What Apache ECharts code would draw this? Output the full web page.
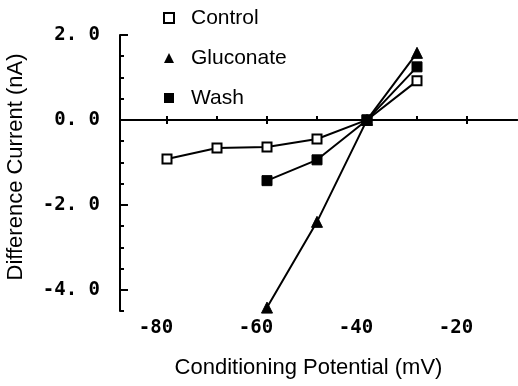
<!DOCTYPE html>
<html>
<head>
<meta charset="utf-8">
<script src="https://cdn.jsdelivr.net/npm/echarts@6/dist/echarts.min.js"></script>
<style>
    html, body { margin: 0; padding: 0; background: #fff; }
    #chart { width: 518px; height: 386px; }
</style>
</head>
<body>
<div id="chart"></div>
<script>
// conditioning potential (mV)
const controlX = [-80, -70, -60, -50, -40, -30];
const controlY = [-0.92, -0.66, -0.64, -0.45, 0, 0.92];
const gluconateX = [-60, -50, -40, -30];
const gluconateY = [-4.42, -2.4, 0, 1.58];
const washX = [-60, -50, -40, -30];
const washY = [-1.43, -0.94, 0, 1.25];
const xTickLabels = [-80, -60, -40, -20];
const xMinorTicks = [-80, -70, -60, -50, -40, -30, -20];
const yMajorTicks = [-4, -2, 0, 2];

const pairs = (xs, ys) => xs.map((x, i) => [x, ys[i]]);

let myChart = echarts.init(document.getElementById('chart'));

const monoFont = 'DejaVu Sans Mono';
const sansFont = 'Liberation Sans';

myChart.setOption({
    animation: false,
    backgroundColor: '#fff',
    legend: {
        orient: 'vertical',
        left: 158,
        top: 2,
        itemWidth: 10,
        itemHeight: 10,
        itemGap: 18,
        textStyle: {
            fontFamily: sansFont,
            fontSize: 21,
            color: '#000',
            lineHeight: 22,
            padding: [0, 0, 0, 12],
        },
        data: [
            { name: 'Control', icon: 'rect' },
            { name: 'Gluconate', icon: 'triangle' },
            { name: 'Wash', icon: 'rect' },
        ],
    },
    grid: {
        left: 120,
        right: 1,
        top: 35,
        bottom: 75,
        outerBoundsMode: 'none',
    },
    xAxis: [
        { // line on y = 0, ticks downward
            type: 'value',
            min: -89.4,
            max: -10,
            position: 'bottom',
            axisLine: { onZero: true, onZeroAxisIndex: 0, lineStyle: { color: '#000', width: 2 } },
            axisTick: { show: true, inside: false, length: 4, customValues: xTickLabels, lineStyle: { color: '#000', width: 2 } },
            axisLabel: { show: false },
            splitLine: { show: false },
        },
        { // ticks upward on y = 0
            type: 'value',
            min: -89.4,
            max: -10,
            position: 'top',
            axisLine: { onZero: true, onZeroAxisIndex: 1, lineStyle: { color: '#000', width: 2 } },
            axisTick: { show: true, inside: false, length: 4, customValues: xMinorTicks, lineStyle: { color: '#000', width: 2 } },
            axisLabel: { show: false },
            splitLine: { show: false },
        },
        { // labels only, below the plot
            type: 'value',
            min: -87.2,
            max: -7.8,
            position: 'bottom',
            axisLine: { show: false, onZero: false },
            axisTick: { show: false },
            splitLine: { show: false },
            axisLabel: {
                customValues: xTickLabels,
                margin: 8,
                fontFamily: monoFont,
                fontWeight: 'bold',
                fontSize: 19,
                color: '#000',
            },
            name: 'Conditioning Potential (mV)',
            nameLocation: 'middle',
            nameGap: 46,
            nameTextStyle: {
                fontFamily: sansFont,
                fontSize: 22,
                color: '#000',
                padding: [0, 20, 0, 0],
            },
        },
    ],
    yAxis: [
        {
            type: 'value',
            min: -4.5,
            max: 2,
            interval: 0.5,
            position: 'left',
            axisLine: { show: true, onZero: false, lineStyle: { color: '#000', width: 2 } },
            axisTick: { show: true, inside: true, length: 4, lineStyle: { color: '#000', width: 2 } },
            splitLine: { show: false },
            axisLabel: {
                margin: 20,
                fontFamily: monoFont,
                fontWeight: 'bold',
                fontSize: 19,
                color: '#000',
                formatter: function (v) {
                    if (Math.abs(v % 2) > 1e-6) return '';
                    return v.toFixed(1).replace('.', '. ');
                },
            },
            name: 'Difference Current (nA)',
            nameLocation: 'middle',
            nameGap: 93,
            nameTextStyle: {
                fontFamily: sansFont,
                fontSize: 22,
                color: '#000',
                padding: [0, 0, 0, 12],
            },
        },
        { // twin axis: longer major ticks, and a zero for the second x axis
            type: 'value',
            min: -4.5,
            max: 2,
            position: 'left',
            axisLine: { show: false, onZero: false },
            axisTick: { show: true, inside: true, length: 8, customValues: yMajorTicks, lineStyle: { color: '#000', width: 2 } },
            axisLabel: { show: false },
            splitLine: { show: false },
        },
    ],
    series: [
        {
            name: 'Control',
            type: 'line',
            data: pairs(controlX, controlY),
            symbol: 'rect',
            symbolSize: 9,
            itemStyle: { color: '#fff', borderColor: '#000', borderWidth: 2 },
            lineStyle: { color: '#000', width: 2 },
            z: 3,
        },
        {
            name: 'Gluconate',
            type: 'line',
            data: pairs(gluconateX, gluconateY),
            symbol: 'triangle',
            symbolSize: 11,
            itemStyle: { color: '#000', borderColor: '#000' },
            lineStyle: { color: '#000', width: 2 },
            z: 4,
        },
        {
            name: 'Wash',
            type: 'line',
            data: pairs(washX, washY),
            symbol: 'rect',
            symbolSize: 10,
            itemStyle: { color: '#000', borderColor: '#000' },
            lineStyle: { color: '#000', width: 2 },
            z: 5,
        },
    ],
});

window.addEventListener('resize', function () {
    myChart.resize();
});
</script>
</body>
</html>
